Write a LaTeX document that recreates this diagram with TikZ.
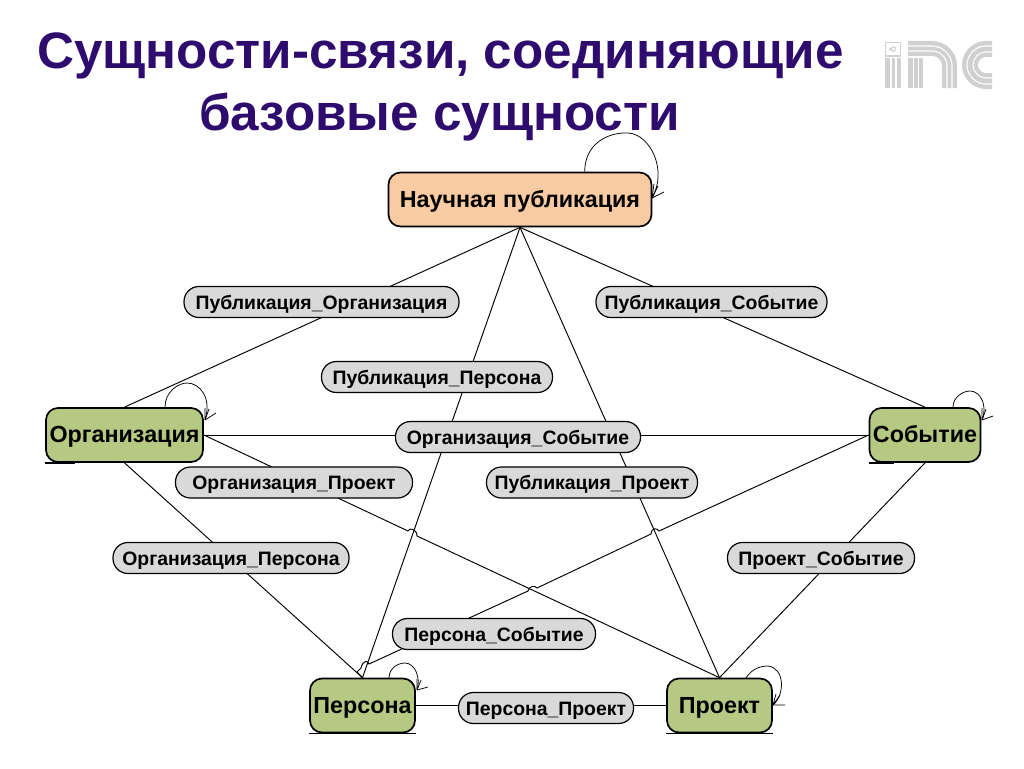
\documentclass[tikz,border=0pt]{standalone}
\usepackage{fontspec}
\setmainfont{Liberation Sans}
\usetikzlibrary{calc}
\definecolor{titlec}{HTML}{2E0C6E}
\definecolor{peach}{HTML}{F9CBA2}
\definecolor{olive}{HTML}{B5C982}
\definecolor{pill}{HTML}{D9D9D9}
\definecolor{logo}{HTML}{D0D0D0}
\tikzset{
 x=1pt,y=-1pt,
 titlet/.style={font=\fontsize{51.2}{52}\selectfont\bfseries,text=titlec,inner sep=0pt,anchor=base west},
 entity/.style={draw=black,line width=1.7pt,rounded corners=12pt,inner sep=0pt,font=\fontsize{23.3}{24}\selectfont\bfseries,text height=20pt,text depth=4.6pt,minimum height=54pt},
 relbox/.style={draw=black,line width=1.2pt,rounded corners=15pt,fill=pill,inner sep=0pt,minimum height=31pt,font=\fontsize{19.4}{20}\selectfont\bfseries,text height=18pt,text depth=4pt},
 link/.style={draw=black,line width=0.95pt},
 loopl/.style={draw=black,line width=0.75pt},
 under/.style={draw=black,line width=1.3pt},
 logoline/.style={draw=white,line width=1.1pt}
}
\begin{document}
\begin{tikzpicture}
\useasboundingbox (0,0) rectangle (1024,768);
% title
\node[titlet] (t1) at (37,68) {Сущности-связи, соединяющие};
\node[titlet] (t2) at (199,130) {базовые сущности};
% logo: i
\draw[logo,line width=1.2pt] (885.5,42.5) rectangle (900.5,56);
\fill[logo] (885,58) rectangle (901,88);
\draw[logoline] (891,58) -- (891,88) (896,58) -- (896,88);
\draw[logo,line width=1.1pt] (889,49) -- (891.5,49);
\draw[logo,line width=1.1pt] (893.5,49) circle[radius=2.2pt];
% logo: n
\fill[logo] (908,58) rectangle (923,88);
\draw[logoline] (913.5,58) -- (913.5,88) (918.5,58) -- (918.5,88);
\draw[logo,line width=15pt] (908,48.5) -- (932,48.5) .. controls (941.7,48.5) and (949.5,56.3) .. (949.5,66) -- (949.5,88);
\draw[logoline] (908,46) -- (932,46) .. controls (943,46) and (952,55) .. (952,66) -- (952,88);
\draw[logoline] (908,51) -- (932,51) .. controls (940.3,51) and (947,57.7) .. (947,66) -- (947,88);
% logo: c
\foreach \R/\w/\c in {16/16/logo,19/1.1/white,13/1.1/white}{
  \draw[draw=\c,line width=\w pt] (992,65-\R) -- (986,65-\R) .. controls (986-0.552*\R,65-\R) and (986-\R,65-0.552*\R) .. (986-\R,65) .. controls (986-\R,65+0.552*\R) and (986-0.552*\R,65+\R) .. (986,65+\R) -- (992,65+\R);
}
% entities
\node[entity,fill=peach,minimum width=263pt] (pub) at (520,199.5) {Научная публикация};
\node[entity,fill=olive,minimum width=157pt] (org) at (124.5,435) {Организация};
\node[entity,fill=olive,minimum width=111pt] (sob) at (925,435) {Событие};
\node[entity,fill=olive,minimum width=105pt] (per) at (362.5,705.5) {Персона};
\node[entity,fill=olive,minimum width=105pt] (pro) at (719.5,705.5) {Проект};
% jump points
\coordinate (j1a) at (408,531);\coordinate (j1b) at (417,536);
\coordinate (j2a) at (651,534);\coordinate (j2b) at (659,531);
\coordinate (j3a) at (528,591);\coordinate (j3b) at (537,588);
\coordinate (j4a) at (369,664);\coordinate (j4b) at (361,668);\coordinate (j4c) at (357,672);
% connectors
\draw[link] (pub.south) -- (org.north);
\draw[link] (pub.south) -- (sob.north);
\draw[link] (pub.south) -- (per.north);
\draw[link] (pub.south) -- (pro.north);
\draw[link] (org.east) -- (sob.west);
\draw[link] (org.east) -- (j1a) .. controls +(1,-4) and +(0,-7) .. (j1b) -- (pro.north);
\draw[link] (org.south) -- (per.north);
\draw[link] (sob.west) -- (j2b) .. controls +(-2,-3) and +(1,-7) .. (j2a) -- (j3b) .. controls +(-2,-3) and +(1,-5) .. (j3a) -- (j4a) .. controls +(-1,-4) and +(2,-8) .. (j4b) -- (j4c) -- (per.north);
\draw[link] (sob.south) -- (pro.north);
\draw[link] (per.east) -- (pro.west);
% relation labels
\node[relbox,minimum width=275pt] (r1) at (321.5,302) {Публикация\_Организация};
\node[relbox,minimum width=231pt] (r2) at (711.5,302) {Публикация\_Событие};
\node[relbox,minimum width=231pt] (r3) at (437,377) {Публикация\_Персона};
\node[relbox,minimum width=245pt] (r4) at (518,437) {Организация\_Событие};
\node[relbox,minimum width=237pt] (r5) at (294,482.5) {Организация\_Проект};
\node[relbox,minimum width=211pt] (r6) at (592,482.5) {Публикация\_Проект};
\node[relbox,minimum width=236pt] (r7) at (231,558) {Организация\_Персона};
\node[relbox,minimum width=187pt] (r8) at (821,558) {Проект\_Событие};
\node[relbox,minimum width=203pt] (r9) at (494,634) {Персона\_Событие};
\node[relbox,minimum width=175pt] (r10) at (546,708) {Персона\_Проект};
% self loops
\coordinate (l1s) at ($(pub.north west)+(197,0)$);
\coordinate (l1e) at (652,198);
\draw[loopl] (l1s) .. controls (585,142) and (610,132) .. (628,133) .. controls (650,134) and (668,170) .. (l1e);
\draw[loopl] (l1e) -- (664,192) (l1e) -- (654,184) (l1e) -- (658,186);
\coordinate (l2e) at (205,420);
\draw[loopl] (165,407) .. controls (165,392) and (178,383) .. (187,383) .. controls (200,383) and (212,398) .. (l2e);
\draw[loopl] (l2e) -- (216,413) (l2e) -- (205,408) (l2e) -- (209,409);
\coordinate (l3e) at (982,420);
\draw[loopl] (953,407) .. controls (953,397) and (963,391) .. (970,391) .. controls (980,391) and (988,405) .. (l3e);
\draw[loopl] (l3e) -- (993,416) (l3e) -- (982,408) (l3e) -- (986,409);
\coordinate (l4e) at (417,690);
\draw[loopl] (389,678) .. controls (389,668) and (398,663) .. (405,663) .. controls (415,663) and (421,678) .. (l4e);
\draw[loopl] (l4e) -- (428,687) (l4e) -- (417,679) (l4e) -- (421,680);
\coordinate (l5e) at (773,705);
\draw[loopl] (746,678) .. controls (752,668) and (762,666) .. (768,666) .. controls (785,668) and (785,695) .. (l5e);
\draw[loopl] (l5e) -- (785,705) (l5e) -- (776,694) (l5e) -- (780,695);
% underlines
\draw[under] (org.south west) -- ++(30,0);
\draw[under] (sob.south west) -- ++(25,0);
\draw[under] (per.south west) -- (per.south east);
\draw[under] (pro.south west) -- (pro.south east);
\end{tikzpicture}
\end{document}
